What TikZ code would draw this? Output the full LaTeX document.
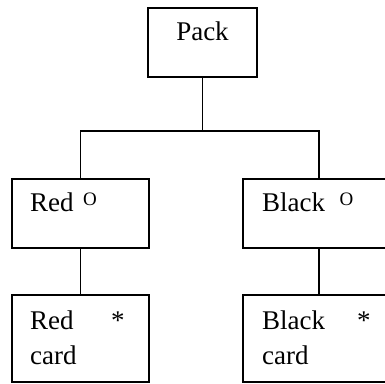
\documentclass[tikz,border=0pt]{standalone}
\usepackage{fontspec}
\setmainfont{Liberation Serif}
\begin{document}
\begin{tikzpicture}[x=1pt,y=-1pt,
  box/.style={draw=black,line width=1.2pt,fill=none,inner sep=0pt,
    minimum width=#1},
  box/.default=137pt,
  lbl/.style={anchor=base west,inner sep=0pt,font=\fontsize{27}{35}\selectfont},
  ringmark/.style={anchor=base west,inner sep=0pt,font=\fontsize{19}{19}\selectfont},
  starmark/.style={anchor=base west,inner sep=0pt,font=\fontsize{27}{27}\selectfont},
  link/.style={draw=black,line width=1.2pt}]
  \useasboundingbox (0,0) rectangle (385,383);
  \begin{scope}
  \clip (0,0) rectangle (385,383);
  % boxes of the hierarchy
  \node[box=109pt,minimum height=69pt] (pack) at (202.5,42.5) {};
  \node[box=137pt,minimum height=69pt] (red) at (80.5,213.5) {};
  \node[box=152pt,minimum height=69pt] (black) at (319,213.5) {};
  \node[box=137pt,minimum height=87pt] (redcard) at (80.5,338.5) {};
  \node[box=152pt,minimum height=87pt] (blackcard) at (319,338.5) {};
  % connectors
  \coordinate (bus) at (202.5,131);
  \draw[link] (pack.south) -- (bus);
  \draw[link] (red.north) |- (bus) -| (black.north);
  \draw[link] (red.south) -- (redcard.north);
  \draw[link] (black.south) -- (blackcard.north);
  \end{scope}
  % texts
  \node[anchor=base,inner sep=0pt,font=\fontsize{27}{35}\selectfont] (tpack) at (202.5,40) {Pack};
  \node[lbl] (tred) at (30,211.7) {Red};
  \node[ringmark] (ored) at (83,205) {O};
  \node[lbl] (tblack) at (262,211.7) {Black};
  \node[ringmark] (oblack) at (339.5,205) {O};
  \node[lbl] (tredcard1) at (30,329) {Red};
  \node[lbl] (tredcard2) at (30,364) {card};
  \node[starmark] (sred) at (111,329) {*};
  \node[lbl] (tblackcard1) at (262,329) {Black};
  \node[lbl] (tblackcard2) at (262,364) {card};
  \node[starmark] (sblack) at (357,329) {*};
\end{tikzpicture}
\end{document}
